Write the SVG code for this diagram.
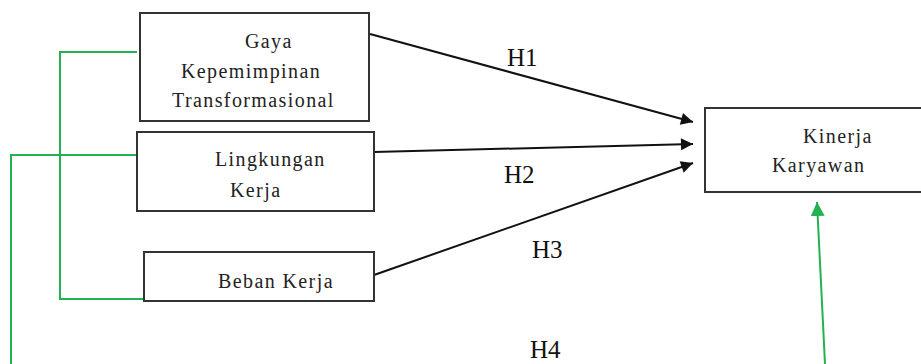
<svg xmlns="http://www.w3.org/2000/svg" width="921" height="364" viewBox="0 0 921 364">
<style>
.box{fill:#fff;stroke:#333;stroke-width:2}
.t{font-family:'Liberation Serif','DejaVu Serif',serif;font-size:20px;letter-spacing:1.4px;fill:#222}
.h{font-family:'Liberation Serif','DejaVu Serif',serif;font-size:25px;fill:#111}
.c{stroke:#111;stroke-width:2;fill:none}
.g{stroke:#22b24f;stroke-width:2;fill:none}
</style>
<defs>
<marker id="ab" viewBox="0 0 10 10" refX="10" refY="5" markerWidth="14" markerHeight="12" markerUnits="userSpaceOnUse" orient="auto"><path d="M0,0L10,5L0,10Z" fill="#111"/></marker>
<marker id="ag" viewBox="0 0 10 10" refX="10" refY="5" markerWidth="14" markerHeight="14" markerUnits="userSpaceOnUse" orient="auto"><path d="M0,0L10,5L0,10Z" fill="#22b24f"/></marker>
</defs>
<rect width="921" height="364" fill="#fff"/>
<g id="connectors">
<path class="g" d="M137,52H60V299H144"/>
<path class="g" d="M143,155H11V364"/>
<line class="g" x1="825" y1="364" x2="817" y2="202" marker-end="url(#ag)"/>
<line class="c" x1="370" y1="34" x2="693" y2="122" marker-end="url(#ab)"/>
<line class="c" x1="374" y1="152" x2="693" y2="144" marker-end="url(#ab)"/>
<line class="c" x1="374" y1="275" x2="693" y2="163" marker-end="url(#ab)"/>
<text class="h" x="507" y="66">H1</text>
<text class="h" x="504" y="183">H2</text>
<text class="h" x="532" y="258">H3</text>
<text class="h" x="530" y="358">H4</text>
</g>
<g id="gaya">
<rect class="box" x="140" y="13" width="229" height="108"/>
<text class="t" x="245" y="48">Gaya</text>
<text class="t" x="181" y="78">Kepemimpinan</text>
<text class="t" x="172" y="107">Transformasional</text>
</g>
<g id="lingkungan">
<rect class="box" x="137" y="132" width="237" height="79"/>
<text class="t" x="215" y="166">Lingkungan</text>
<text class="t" x="230" y="197">Kerja</text>
</g>
<g id="beban">
<rect class="box" x="144" y="252" width="230" height="49"/>
<text class="t" x="218" y="288">Beban Kerja</text>
</g>
<g id="kinerja">
<rect class="box" x="705" y="108" width="230" height="84"/>
<text class="t" x="803" y="143">Kinerja</text>
<text class="t" x="772" y="172">Karyawan</text>
</g>
</svg>
